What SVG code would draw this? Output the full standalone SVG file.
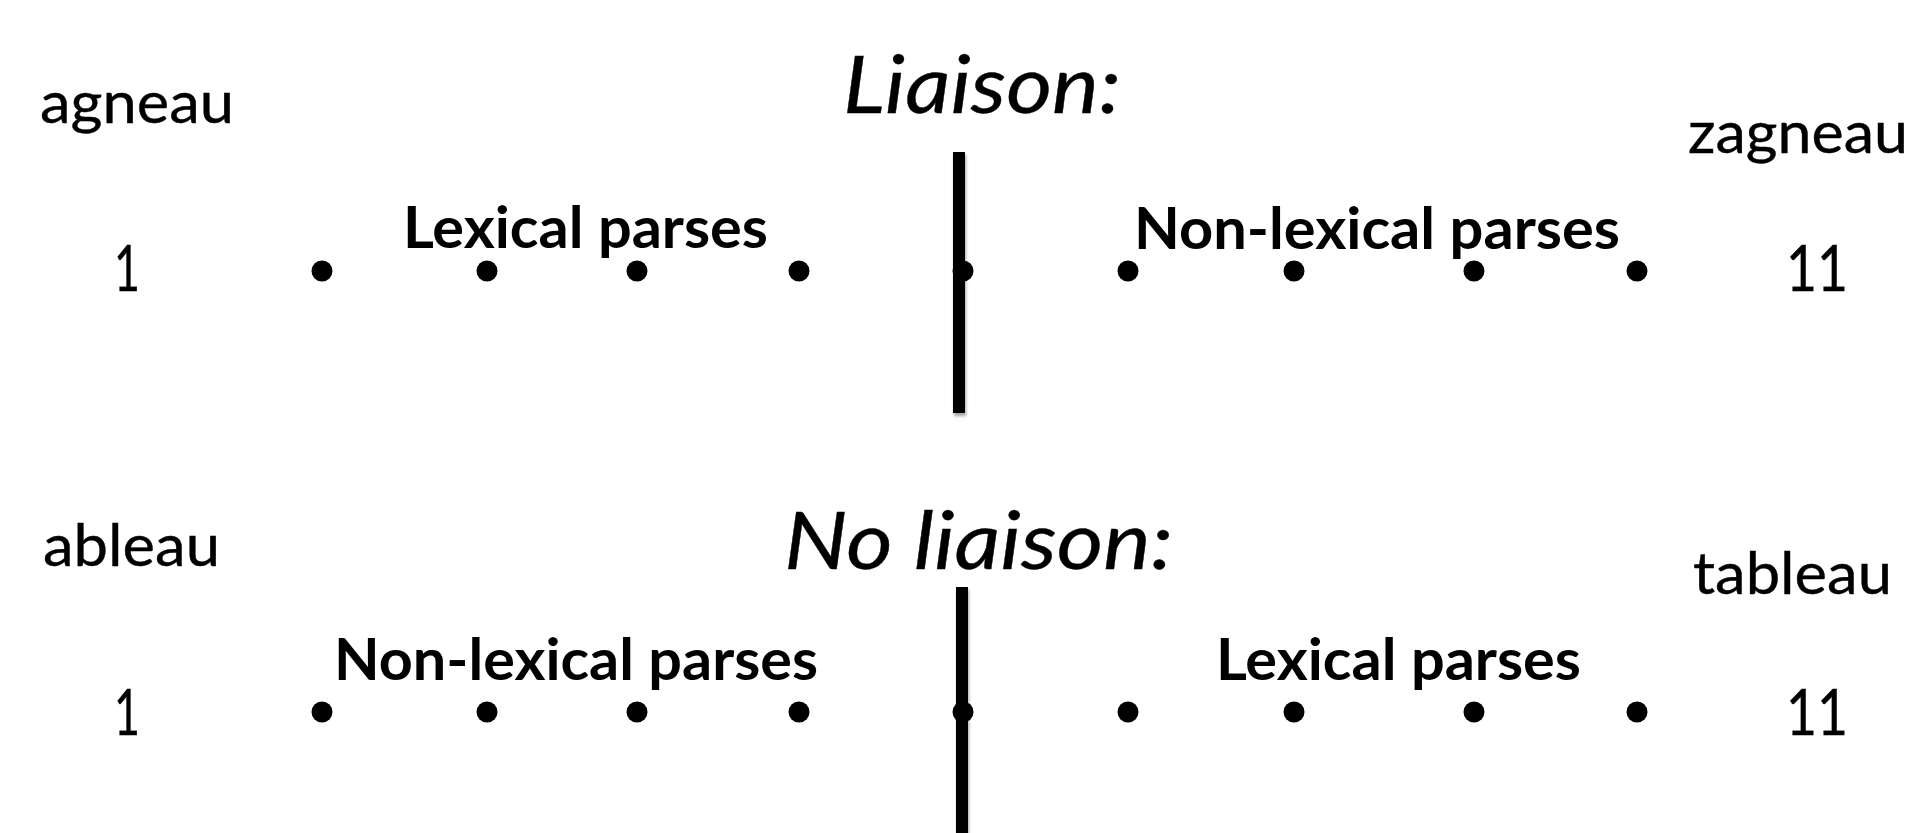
<svg xmlns="http://www.w3.org/2000/svg" width="1920" height="833" viewBox="0 0 1920 833">
  <defs>
    <filter id="barShadow" x="-50%" y="-5%" width="200%" height="110%">
      <feDropShadow dx="1" dy="3" stdDeviation="1.5" flood-color="#000" flood-opacity="0.35"/>
    </filter>
  </defs>
  <style>
    text { font-family: Lato, "Open Sans", "Noto Sans", sans-serif; fill: #000; }
    .word { font-size: 59px; stroke: #000; stroke-width: 0.4px; }
    .num { font-size: 64px; stroke: #000; stroke-width: 0.4px; }
    .head { font-size: 80px; font-style: italic; stroke: #000; stroke-width: 0.4px; }
    .group { font-size: 58px; font-weight: bold; }
    .dot { fill: #000; }
    .bar { fill: #000; filter: url(#barShadow); }
  </style>

  <rect width="1920" height="833" fill="#fff"/>

  <!-- Upper panel: liaison -->
  <g id="liaison-panel">
    <text id="liaison-title" class="head" x="843" y="113" textLength="278" lengthAdjust="spacingAndGlyphs">Liaison:</text>
    <g id="liaison-left">
      <text class="word" x="40" y="123" textLength="194" lengthAdjust="spacingAndGlyphs">agneau</text>
      <text class="num" x="114" y="291" textLength="26" lengthAdjust="spacingAndGlyphs">1</text>
    </g>
    <g id="liaison-right">
      <text class="word" x="1688" y="153" textLength="220" lengthAdjust="spacingAndGlyphs">zagneau</text>
      <text class="num" x="1786" y="291" textLength="62" lengthAdjust="spacingAndGlyphs">11</text>
    </g>
    <text id="liaison-lexical" class="group" x="403" y="248" textLength="365" lengthAdjust="spacingAndGlyphs">Lexical parses</text>
    <text id="liaison-nonlexical" class="group" x="1134" y="249" textLength="486" lengthAdjust="spacingAndGlyphs">Non-lexical parses</text>
    <g id="liaison-scale">
      <circle class="dot" cx="322" cy="271" r="10.5"/>
      <circle class="dot" cx="487" cy="271" r="10.5"/>
      <circle class="dot" cx="637" cy="271" r="10.5"/>
      <circle class="dot" cx="799" cy="271" r="10.5"/>
      <circle class="dot" cx="963" cy="271" r="10.5"/>
      <circle class="dot" cx="1128" cy="271" r="10.5"/>
      <circle class="dot" cx="1294" cy="271" r="10.5"/>
      <circle class="dot" cx="1474" cy="271" r="10.5"/>
      <circle class="dot" cx="1637" cy="271" r="10.5"/>
    </g>
  </g>

  <!-- Lower panel: no liaison -->
  <g id="noliaison-panel">
    <text id="noliaison-title" class="head" x="784" y="569" textLength="389" lengthAdjust="spacingAndGlyphs">No liaison:</text>
    <g id="noliaison-left">
      <text class="word" x="43" y="566" textLength="177" lengthAdjust="spacingAndGlyphs">ableau</text>
      <text class="num" x="114" y="735" textLength="26" lengthAdjust="spacingAndGlyphs">1</text>
    </g>
    <g id="noliaison-right">
      <text class="word" x="1693" y="594" textLength="199" lengthAdjust="spacingAndGlyphs">tableau</text>
      <text class="num" x="1786" y="735" textLength="62" lengthAdjust="spacingAndGlyphs">11</text>
    </g>
    <text id="noliaison-nonlexical" class="group" x="334" y="680" textLength="484" lengthAdjust="spacingAndGlyphs">Non-lexical parses</text>
    <text id="noliaison-lexical" class="group" x="1216" y="680" textLength="365" lengthAdjust="spacingAndGlyphs">Lexical parses</text>
    <g id="noliaison-scale">
      <circle class="dot" cx="322" cy="712" r="10.5"/>
      <circle class="dot" cx="487" cy="712" r="10.5"/>
      <circle class="dot" cx="637" cy="712" r="10.5"/>
      <circle class="dot" cx="799" cy="712" r="10.5"/>
      <circle class="dot" cx="963" cy="712" r="10.5"/>
      <circle class="dot" cx="1128" cy="712" r="10.5"/>
      <circle class="dot" cx="1294" cy="712" r="10.5"/>
      <circle class="dot" cx="1474" cy="712" r="10.5"/>
      <circle class="dot" cx="1637" cy="712" r="10.5"/>
    </g>
  </g>

  <!-- Dividing bars between lexical and non-lexical parses -->
  <g id="dividers">
    <rect class="bar" x="953" y="152" width="12" height="261"/>
    <rect class="bar" x="956" y="587" width="12" height="250"/>
  </g>
</svg>
